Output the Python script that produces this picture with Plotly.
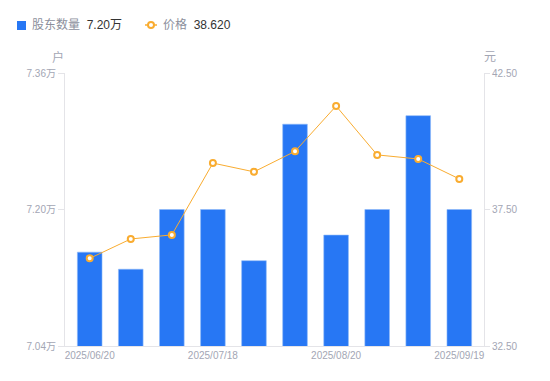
import plotly.graph_objects as go

dates = ["2025/06/20", "2025/06/30", "2025/07/10", "2025/07/18", "2025/07/31",
         "2025/08/08", "2025/08/20", "2025/08/29", "2025/09/10", "2025/09/19"]
holders = [7.15, 7.13, 7.20, 7.20, 7.14, 7.30, 7.17, 7.20, 7.31, 7.20]  # 万户
price = [35.71, 36.42, 36.57, 39.20, 38.88, 39.63, 41.29, 39.50, 39.35, 38.62]
x_ticks = ["2025/06/20", "2025/07/18", "2025/08/20", "2025/09/19"]
left_ticks = [7.04, 7.20, 7.36]
right_ticks = [32.5, 37.5, 42.5]

BLUE = "#2777F4"
ORANGE = "#F9AC30"
TICK = "#A3A6B4"
AXIS = "#E4E4E8"
FONT = "Liberation Sans, Noto Sans CJK SC, sans-serif"

OFF = 8  # page body margin
W, H = 550 - OFF, 381 - OFF
L, R, T, B = 65 - OFF, 66, 73 - OFF, 35
pw, ph = W - L - R, H - T - B
PX0 = OFF + L          # plot left in page px
PY0 = OFF + H - B      # plot bottom in page px

def px(x):
    return (x - PX0) / pw

def py(y):
    return (PY0 - y) / ph

fig = go.Figure()
fig.add_trace(go.Bar(x=dates, y=holders, marker=dict(color=BLUE, line=dict(color="#8DB8F9", width=0.6)),
                     name="股东数量", yaxis="y"))
fig.add_trace(go.Scatter(x=dates, y=price, mode="lines+markers", name="价格", yaxis="y2",
                         line=dict(color=ORANGE, width=1),
                         marker=dict(symbol="circle", size=6, color="white",
                                     line=dict(color=ORANGE, width=2))))

fig.update_layout(
    width=W, height=H,
    margin=dict(l=L, r=R, t=T, b=B),
    paper_bgcolor="white", plot_bgcolor="white",
    showlegend=False,
    bargap=0.4,
    font=dict(family=FONT, size=10, color=TICK),
    xaxis=dict(type="category", tickmode="array", tickvals=x_ticks, ticktext=x_ticks,
               showgrid=False, showline=True, linecolor=AXIS, linewidth=1,
               ticks="", tickfont=dict(size=10, color=TICK), zeroline=False),
    yaxis=dict(range=[left_ticks[0], left_ticks[-1]], tickvals=left_ticks,
               ticktext=[f"{v:.2f}万" for v in left_ticks],
               showgrid=False, showline=True, linecolor=AXIS, linewidth=1,
               ticks="outside", ticklen=6, tickcolor=AXIS, zeroline=False,
               tickfont=dict(size=10, color=TICK)),
    yaxis2=dict(range=[right_ticks[0], right_ticks[-1]], tickvals=right_ticks,
                ticktext=[f"{v:.2f}" for v in right_ticks],
                overlaying="y", side="right",
                showgrid=False, showline=True, linecolor=AXIS, linewidth=1,
                ticks="outside", ticklen=5, tickcolor=AXIS, zeroline=False,
                tickfont=dict(size=10, color=TICK)),
)

# axis unit titles
fig.add_annotation(text="户", xref="paper", yref="paper", x=px(58), y=py(57),
                   showarrow=False, font=dict(size=12, color=TICK, family=FONT),
                   xanchor="center", yanchor="middle")
fig.add_annotation(text="元", xref="paper", yref="paper", x=px(490), y=py(57),
                   showarrow=False, font=dict(size=12, color=TICK, family=FONT),
                   xanchor="center", yanchor="middle")

# custom legend
LEG = "#8C8F9C"
DARK = "#333333"
fig.add_shape(type="rect", xref="paper", yref="paper", x0=px(17), x1=px(26), y0=py(21), y1=py(30),
              fillcolor=BLUE, line=dict(width=0))
fig.add_annotation(text=f'股东数量  <span style="color:{DARK}">{holders[-1]:.2f}万</span>',
                   xref="paper", yref="paper", x=px(30), y=py(25), xanchor="left", yanchor="middle",
                   showarrow=False, font=dict(size=12, color=LEG, family=FONT))
fig.add_shape(type="line", xref="paper", yref="paper", x0=px(145), x1=px(157), y0=py(25), y1=py(25),
              line=dict(color=ORANGE, width=1.5))
fig.add_shape(type="circle", xref="paper", yref="paper", x0=px(148), x1=px(154), y0=py(22), y1=py(28),
              fillcolor="white", line=dict(color=ORANGE, width=2))
fig.add_annotation(text=f'价格  <span style="color:{DARK}">{price[-1]:.3f}</span>',
                   xref="paper", yref="paper", x=px(161), y=py(25), xanchor="left", yanchor="middle",
                   showarrow=False, font=dict(size=12, color=LEG, family=FONT))

fig.write_html("out.html")
